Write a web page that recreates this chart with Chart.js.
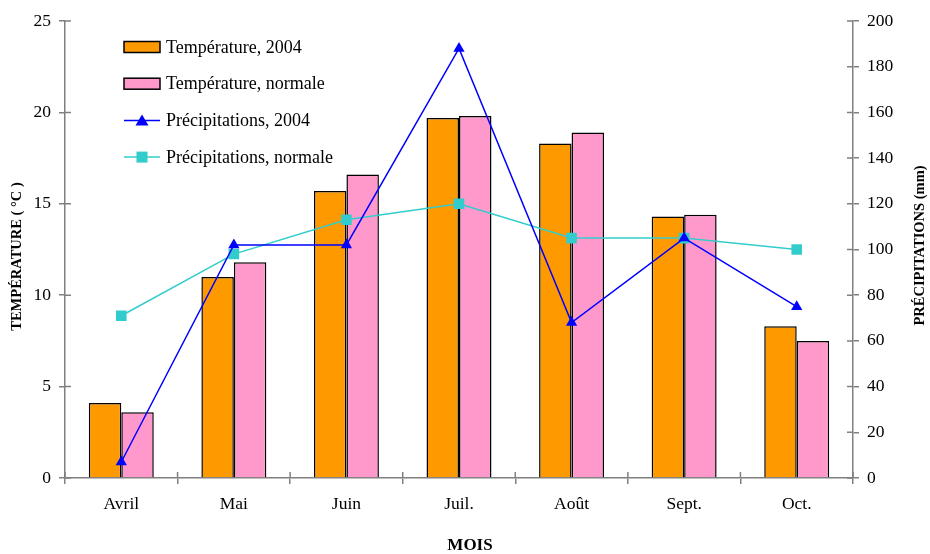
<!DOCTYPE html>
<html>
<head>
<meta charset="utf-8">
<script src="https://cdn.jsdelivr.net/npm/chart.js@4.4.0/dist/chart.umd.min.js"></script>
<style>
  body { margin: 0; background: #fff; }
  #wrap { width: 930px; height: 554px; }
</style>
</head>
<body>
<div id="wrap"><canvas id="chart" width="930" height="554"></canvas></div>
<script>
const months = ['Avril', 'Mai', 'Juin', 'Juil.', 'Août', 'Sept.', 'Oct.'];
const temp2004 = [4.1, 11.0, 15.7, 19.7, 18.3, 14.3, 8.3];
const tempNormale = [3.6, 11.8, 16.6, 19.8, 18.9, 14.4, 7.5];
const precip2004 = [7, 102, 102, 188, 68, 105, 75];
const precipNormale = [71, 98, 113, 120, 105, 105, 100];

const FONT = "'Liberation Serif', 'Times New Roman', serif";
const AXIS = '#808080';
const TICK = 6;

// legend drawn inside the plot, top left
const innerLegend = {
    id: 'innerLegend',
    afterDraw(chart) {
        const ctx = chart.ctx;
        const x = chart.chartArea.left + 59;
        let y = chart.chartArea.top + 26;
        const items = chart.data.datasets.slice().sort((a, b) => a.legendIndex - b.legendIndex);
        ctx.save();
        ctx.font = '18px ' + FONT;
        ctx.textBaseline = 'middle';
        items.forEach(ds => {
            if (ds.type === 'bar') {
                ctx.fillStyle = ds.backgroundColor;
                ctx.fillRect(x, y - 5.5, 36, 11);
                ctx.strokeStyle = '#000';
                ctx.lineWidth = 1.5;
                ctx.strokeRect(x, y - 5.5, 36, 11);
            } else {
                ctx.strokeStyle = ds.borderColor;
                ctx.lineWidth = 1.5;
                ctx.beginPath();
                ctx.moveTo(x, y);
                ctx.lineTo(x + 36, y);
                ctx.stroke();
                ctx.fillStyle = ds.borderColor;
                if (ds.pointStyle === 'triangle') {
                    ctx.beginPath();
                    ctx.moveTo(x + 18, y - 6);
                    ctx.lineTo(x + 24.5, y + 5);
                    ctx.lineTo(x + 11.5, y + 5);
                    ctx.closePath();
                    ctx.fill();
                } else {
                    ctx.fillRect(x + 12.5, y - 5.5, 11, 11);
                }
            }
            ctx.fillStyle = '#000';
            ctx.fillText(ds.label, x + 42, y + 1);
            y += 36.7;
        });
        ctx.restore();
    }
};

// tick marks cross the axis: draw the inner half
const crossTicks = {
    id: 'crossTicks',
    afterDraw(chart) {
        const ctx = chart.ctx;
        const { x, y, y1 } = chart.scales;
        ctx.save();
        ctx.strokeStyle = AXIS;
        ctx.lineWidth = 1.5;
        ctx.beginPath();
        y.ticks.forEach((t, i) => {
            const py = y.getPixelForTick(i);
            ctx.moveTo(y.right, py); ctx.lineTo(y.right + TICK, py);
        });
        y1.ticks.forEach((t, i) => {
            const py = y1.getPixelForTick(i);
            ctx.moveTo(y1.left, py); ctx.lineTo(y1.left - TICK, py);
        });
        const n = x.ticks.length;
        for (let i = 0; i <= n; i++) {
            const px = x.left + i * x.width / n;
            ctx.moveTo(px, x.top); ctx.lineTo(px, x.top - TICK);
        }
        ctx.stroke();
        ctx.restore();
    }
};

// axis titles
const axisTitles = {
    id: 'axisTitles',
    afterDraw(chart) {
        const ctx = chart.ctx;
        const a = chart.chartArea;
        const midY = (a.top + a.bottom) / 2;
        ctx.save();
        ctx.fillStyle = '#000';
        ctx.textAlign = 'center';
        ctx.textBaseline = 'middle';
        ctx.font = 'bold 14.5px ' + FONT;
        ctx.save();
        ctx.translate(17, midY + 7);
        ctx.rotate(-Math.PI / 2);
        ctx.fillText('TEMPÉRATURE ( °C )', 0, 0);
        ctx.restore();
        ctx.save();
        ctx.translate(920, midY - 4);
        ctx.rotate(-Math.PI / 2);
        ctx.fillText('PRÉCIPITATIONS (mm)', 0, 0);
        ctx.restore();
        ctx.font = 'bold 17px ' + FONT;
        ctx.fillText('MOIS', (a.left + a.right) / 2 + 11, 546);
        ctx.restore();
    }
};

new Chart(document.getElementById('chart'), {
    data: {
        labels: months,
        datasets: [
            {
                type: 'line',
                label: 'Précipitations, 2004',
                legendIndex: 2,
                data: precip2004,
                yAxisID: 'y1',
                borderColor: '#0000FF',
                backgroundColor: '#0000FF',
                borderWidth: 1.5,
                pointStyle: 'triangle',
                pointRadius: 6.5,
                pointBorderWidth: 0,
                tension: 0
            },
            {
                type: 'line',
                label: 'Précipitations, normale',
                legendIndex: 3,
                data: precipNormale,
                yAxisID: 'y1',
                borderColor: '#33CCCC',
                backgroundColor: '#33CCCC',
                borderWidth: 1.5,
                pointStyle: 'rect',
                pointRadius: 7.5,
                pointBorderWidth: 0,
                tension: 0
            },
            {
                type: 'bar',
                label: 'Température, 2004',
                legendIndex: 0,
                data: temp2004,
                yAxisID: 'y',
                backgroundColor: '#FF9900',
                borderColor: '#000',
                borderWidth: 1.5,
                categoryPercentage: 0.577,
                barPercentage: 1
            },
            {
                type: 'bar',
                label: 'Température, normale',
                legendIndex: 1,
                data: tempNormale,
                yAxisID: 'y',
                backgroundColor: '#FF99CC',
                borderColor: '#000',
                borderWidth: 1.5,
                categoryPercentage: 0.577,
                barPercentage: 1
            }
        ]
    },
    options: {
        responsive: false,
        animation: false,
        layout: { padding: { top: 21, left: 0, right: 0, bottom: 0 } },
        plugins: {
            legend: { display: false },
            tooltip: { enabled: false }
        },
        scales: {
            x: {
                offset: true,
                grid: { offset: true, drawOnChartArea: false, color: AXIS, tickLength: TICK, lineWidth: 1.5 },
                border: { color: AXIS, width: 1.5 },
                ticks: { color: '#000', font: { family: FONT, size: 17.5 }, padding: 10 },
                afterFit(scale) { scale.height = 76; }
            },
            y: {
                position: 'left',
                min: 0, max: 25,
                ticks: { stepSize: 5, color: '#000', font: { family: FONT, size: 17.5 }, padding: 8 },
                grid: { drawOnChartArea: false, color: AXIS, tickLength: TICK, lineWidth: 1.5 },
                border: { color: AXIS, width: 1.5 },
                afterFit(scale) { scale.width = 65; }
            },
            y1: {
                position: 'right',
                min: 0, max: 200,
                ticks: { stepSize: 20, color: '#000', font: { family: FONT, size: 17.5 }, padding: 8 },
                grid: { drawOnChartArea: false, color: AXIS, tickLength: TICK, lineWidth: 1.5 },
                border: { color: AXIS, width: 1.5 },
                afterFit(scale) { scale.width = 77; }
            }
        }
    },
    plugins: [innerLegend, crossTicks, axisTitles]
});
</script>
</body>
</html>
